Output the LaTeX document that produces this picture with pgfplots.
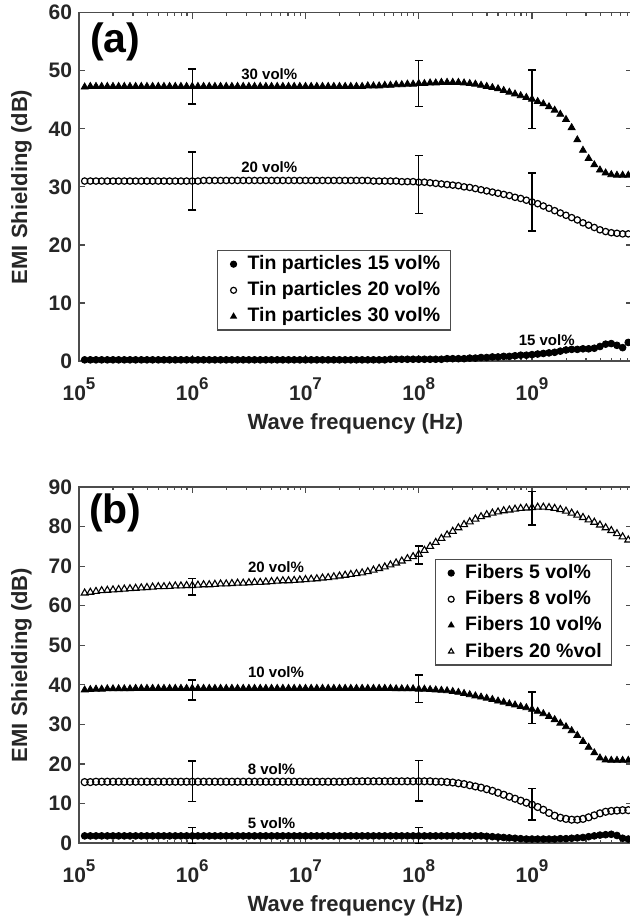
\documentclass[border=0pt]{standalone}
\usepackage{fontspec}
\setmainfont{Liberation Sans}
\usepackage{pgfplots}
\usepackage{pgfplotstable}
\pgfplotsset{compat=1.18}

\definecolor{axgray}{gray}{0.3}
\definecolor{txtgray}{gray}{0.15}
\newcommand{\ex}[1]{10\raisebox{0.5em}{\fontsize{8.5}{9}\selectfont #1}}

% lx = log10(frequency / Hz)
\pgfplotstableread{
lx t15 t20 t30
5.05 0.2 31.0 47.2
5.10 0.2 31.0 47.3
5.15 0.2 31.0 47.3
5.20 0.2 31.0 47.3
5.25 0.2 31.0 47.3
5.30 0.2 31.0 47.3
5.35 0.2 31.0 47.3
5.40 0.2 31.0 47.3
5.45 0.2 31.0 47.3
5.50 0.2 31.0 47.3
5.55 0.2 31.0 47.3
5.60 0.2 31.0 47.3
5.65 0.2 31.0 47.3
5.70 0.2 31.0 47.3
5.75 0.2 31.0 47.3
5.80 0.2 31.0 47.3
5.85 0.2 31.0 47.3
5.90 0.2 31.0 47.3
5.95 0.2 31.0 47.3
6.00 0.2 31.0 47.3
6.05 0.2 31.0 47.3
6.10 0.2 31.1 47.3
6.15 0.2 31.1 47.3
6.20 0.2 31.1 47.3
6.25 0.2 31.1 47.3
6.30 0.2 31.1 47.3
6.35 0.2 31.1 47.3
6.40 0.2 31.1 47.3
6.45 0.2 31.1 47.3
6.50 0.2 31.1 47.3
6.55 0.2 31.1 47.3
6.60 0.2 31.1 47.3
6.65 0.2 31.1 47.3
6.70 0.2 31.1 47.3
6.75 0.2 31.1 47.3
6.80 0.2 31.1 47.3
6.85 0.2 31.1 47.3
6.90 0.2 31.1 47.3
6.95 0.2 31.1 47.3
7.00 0.2 31.1 47.3
7.05 0.2 31.1 47.3
7.10 0.2 31.1 47.3
7.15 0.2 31.1 47.3
7.20 0.2 31.1 47.3
7.25 0.2 31.1 47.3
7.30 0.2 31.1 47.3
7.35 0.2 31.1 47.3
7.40 0.2 31.1 47.3
7.45 0.2 31.1 47.3
7.50 0.2 31.1 47.3
7.55 0.2 31.1 47.4
7.60 0.2 31.0 47.4
7.65 0.2 31.0 47.4
7.70 0.2 31.0 47.5
7.75 0.3 31.0 47.5
7.80 0.3 31.0 47.6
7.85 0.3 30.9 47.6
7.90 0.3 30.9 47.7
7.95 0.3 30.9 47.7
8.00 0.3 30.8 47.8
8.05 0.3 30.8 47.8
8.10 0.3 30.7 47.9
8.15 0.3 30.6 47.9
8.20 0.3 30.5 48.0
8.25 0.4 30.4 48.0
8.30 0.4 30.3 48.0
8.35 0.4 30.2 48.0
8.40 0.4 30.0 47.9
8.45 0.5 29.9 47.8
8.50 0.5 29.7 47.7
8.55 0.6 29.5 47.5
8.60 0.6 29.3 47.3
8.65 0.7 29.1 47.1
8.70 0.7 28.9 46.9
8.75 0.8 28.7 46.6
8.80 0.8 28.5 46.3
8.85 0.9 28.2 46.0
8.90 1.0 28.0 45.7
8.95 1.0 27.7 45.4
9.00 1.1 27.4 45.1
9.05 1.2 27.1 44.7
9.10 1.3 26.7 44.3
9.15 1.4 26.3 43.8
9.20 1.5 25.9 43.2
9.25 1.7 25.5 42.5
9.30 1.9 25.1 41.6
9.35 2.0 24.7 40.2
9.40 2.0 24.3 38.1
9.45 2.1 23.8 36.3
9.50 2.1 23.4 34.9
9.55 2.2 23.0 33.8
9.60 2.5 22.6 32.9
9.65 2.9 22.3 32.4
9.70 3.0 22.1 32.1
9.75 2.7 22.0 32.0
9.80 2.3 21.9 32.0
9.85 3.2 21.9 32.0
}\tindata

\pgfplotstableread{
lx f5 f8 f10 f20
5.05 1.8 15.4 38.7 63.2
5.10 1.8 15.4 38.8 63.4
5.15 1.8 15.5 38.9 63.6
5.20 1.8 15.5 38.9 63.8
5.25 1.8 15.5 39.0 63.9
5.30 1.8 15.5 39.0 64.0
5.35 1.8 15.5 39.0 64.1
5.40 1.8 15.5 39.0 64.2
5.45 1.8 15.5 39.0 64.3
5.50 1.8 15.5 39.1 64.4
5.55 1.8 15.5 39.1 64.5
5.60 1.8 15.5 39.1 64.6
5.65 1.8 15.5 39.1 64.7
5.70 1.8 15.5 39.1 64.8
5.75 1.8 15.5 39.1 64.8
5.80 1.8 15.5 39.1 64.9
5.85 1.8 15.5 39.1 65.0
5.90 1.8 15.5 39.1 65.0
5.95 1.8 15.5 39.1 65.1
6.00 1.8 15.5 39.1 65.1
6.05 1.8 15.5 39.1 65.2
6.10 1.8 15.5 39.1 65.3
6.15 1.8 15.5 39.1 65.3
6.20 1.8 15.5 39.1 65.4
6.25 1.8 15.5 39.1 65.5
6.30 1.8 15.5 39.1 65.5
6.35 1.8 15.5 39.1 65.6
6.40 1.8 15.5 39.1 65.7
6.45 1.8 15.5 39.1 65.7
6.50 1.8 15.5 39.1 65.8
6.55 1.8 15.5 39.1 65.9
6.60 1.8 15.5 39.1 65.9
6.65 1.8 15.5 39.1 66.0
6.70 1.8 15.5 39.1 66.1
6.75 1.8 15.5 39.1 66.2
6.80 1.8 15.5 39.1 66.3
6.85 1.8 15.5 39.1 66.3
6.90 1.8 15.5 39.1 66.4
6.95 1.8 15.5 39.1 66.5
7.00 1.8 15.5 39.1 66.6
7.05 1.8 15.5 39.1 66.7
7.10 1.8 15.5 39.1 66.8
7.15 1.8 15.5 39.1 67.0
7.20 1.8 15.5 39.1 67.1
7.25 1.8 15.5 39.1 67.3
7.30 1.8 15.5 39.1 67.5
7.35 1.8 15.5 39.1 67.7
7.40 1.8 15.6 39.1 67.9
7.45 1.8 15.6 39.1 68.1
7.50 1.8 15.6 39.1 68.3
7.55 1.8 15.6 39.1 68.6
7.60 1.8 15.6 39.1 69.0
7.65 1.8 15.6 39.1 69.4
7.70 1.8 15.6 39.1 69.8
7.75 1.8 15.6 39.1 70.3
7.80 1.8 15.6 39.0 70.8
7.85 1.8 15.6 39.0 71.3
7.90 1.8 15.6 39.0 71.9
7.95 1.8 15.6 39.0 72.4
8.00 1.8 15.6 38.9 73.0
8.05 1.8 15.6 38.9 74.0
8.10 1.8 15.6 38.8 75.0
8.15 1.8 15.5 38.7 76.0
8.20 1.8 15.5 38.6 77.0
8.25 1.8 15.4 38.5 77.9
8.30 1.8 15.3 38.3 78.8
8.35 1.8 15.1 38.1 79.7
8.40 1.8 14.9 37.8 80.5
8.45 1.8 14.6 37.5 81.2
8.50 1.8 14.3 37.2 81.9
8.55 1.8 14.0 36.9 82.5
8.60 1.7 13.6 36.6 83.0
8.65 1.6 13.2 36.3 83.4
8.70 1.5 12.7 35.9 83.7
8.75 1.4 12.2 35.6 84.0
8.80 1.3 11.7 35.2 84.2
8.85 1.2 11.2 34.9 84.4
8.90 1.1 10.7 34.5 84.6
8.95 1.0 10.2 34.2 84.7
9.00 1.0 9.7 33.8 84.8
9.05 1.0 9.1 33.3 84.9
9.10 1.0 8.4 32.7 84.9
9.15 1.0 7.6 32.0 84.8
9.20 1.0 6.9 31.2 84.6
9.25 1.1 6.4 30.3 84.3
9.30 1.1 6.1 29.4 83.9
9.35 1.2 5.9 28.4 83.4
9.40 1.3 5.9 27.2 82.9
9.45 1.4 6.1 25.7 82.3
9.50 1.6 6.5 24.2 81.7
9.55 1.8 7.0 22.8 81.1
9.60 2.0 7.5 21.5 80.4
9.65 2.1 7.9 21.0 79.7
9.70 2.2 8.1 20.9 79.0
9.75 1.9 8.2 20.9 78.2
9.80 1.2 8.3 20.9 77.4
9.85 1.0 8.3 20.9 76.6
}\fiberdata

\tikzset{vl/.style={font=\fontsize{7.5}{9}\selectfont\bfseries, text=black}}

\pgfplotsset{
  emi/.style={
    scale only axis, width=276.5pt, anchor=south west,
    xmin=5, xmax=9.883,
    xtick={5,6,7,8,9},
    xticklabels={\ex{5},\ex{6},\ex{7},\ex{8},\ex{9}},
    minor xtick={5.301,5.477,5.602,5.699,5.778,5.845,5.903,5.954,
                 6.301,6.477,6.602,6.699,6.778,6.845,6.903,6.954,
                 7.301,7.477,7.602,7.699,7.778,7.845,7.903,7.954,
                 8.301,8.477,8.602,8.699,8.778,8.845,8.903,8.954,
                 9.301,9.477,9.602,9.699,9.778,9.845},
    tick align=inside, tick pos=both,
    major tick length=3pt, minor tick length=1.6pt,
    every tick/.style={axgray, line width=0.6pt},
    axis line style={axgray, line width=0.6pt},
    tick label style={font=\fontsize{10.5}{12}\selectfont\bfseries, text=txtgray},
    xticklabel style={yshift=-5pt},
    /pgf/number format/assume math mode=true,
    xlabel={Wave frequency (Hz)}, ylabel={EMI Shielding (dB)},
    every axis x label/.style={at={(axis description cs:0.5,0)}, anchor=center,
      yshift=-31.5pt, font=\fontsize{11}{13}\selectfont\bfseries, text=txtgray},
    every axis y label/.style={at={(axis description cs:0,0.5)}, anchor=center,
      rotate=90, yshift=28.75pt, font=\fontsize{11}{13}\selectfont\bfseries, text=txtgray},
    clip=false,
    legend cell align=left,
    legend style={anchor=north west, draw=axgray, line width=0.6pt,
      inner xsep=3pt, inner ysep=0.5pt, row sep=0.5pt,
      font=\fontsize{9.75}{11}\selectfont\bfseries,
      nodes={inner sep=2pt, text depth=0.15em}},
  },
  mk/.style={only marks, black,
    legend image code/.code={\path[draw=none] (-5pt,0pt) -- (5pt,0pt); \draw[##1, mark size=1.5pt] plot coordinates {(0pt,0pt)};}},
  eb/.style={forget plot, black, only marks, mark=*, mark size=0pt,
    error bars/.cd, y dir=both, y explicit,
    error bar style={line width=0.7pt, black},
    error mark options={rotate=90, black, line width=0.7pt, mark size=2pt}},
}

\begin{document}
\begin{tikzpicture}

% (a) tin particles
\begin{axis}[emi, at={(39.5pt,-180.5pt)}, height=174.15pt,
  ymin=0, ymax=60, ytick={0,10,...,60},
  legend style={at={(0.2495,0.3187)}}]
\addplot[mk, mark=*, mark size=1.7pt] table[x=lx, y=t15] {\tindata};
\addlegendentry{Tin particles 15 vol\%}
\addplot[mk, mark=o, mark size=1.6pt, line width=0.6pt] table[x=lx, y=t20] {\tindata};
\addlegendentry{Tin particles 20 vol\%}
\addplot[mk, mark=triangle*, mark size=2.0pt] table[x=lx, y=t30] {\tindata};
\addlegendentry{Tin particles 30 vol\%}
\addplot[eb] coordinates {(6,47.3) +- (0,3.0) (8,47.8) +- (0,4.0) (9,45.1) +- (0,5.0)};
\addplot[eb] coordinates {(6,31.0) +- (0,5.0) (8,30.4) +- (0,5.0) (9,27.4) +- (0,5.0)};
\node[vl] at (axis cs:6.68,49.5) {30 vol\%};
\node[vl] at (axis cs:6.68,33.4) {20 vol\%};
\node[vl] at (axis cs:9.13,3.6) {15 vol\%};
\node[font=\fontsize{20.5}{23}\selectfont\bfseries] at (axis cs:5.32,55.0) {(a)};
\end{axis}

% (b) fibers
\begin{axis}[emi, at={(39.5pt,-421.5pt)}, height=178pt,
  ymin=0, ymax=90, ytick={0,10,...,90},
  legend style={at={(0.643,0.798)}}]
\addplot[mk, mark=*, mark size=1.7pt] table[x=lx, y=f5] {\fiberdata};
\addlegendentry{Fibers 5 vol\%}
\addplot[mk, mark=o, mark size=1.75pt, line width=0.6pt] table[x=lx, y=f8] {\fiberdata};
\addlegendentry{Fibers 8 vol\%}
\addplot[mk, mark=triangle*, mark size=2.0pt] table[x=lx, y=f10] {\fiberdata};
\addlegendentry{Fibers 10 vol\%}
\addplot[mk, mark=triangle, mark size=2.0pt, line width=0.55pt] table[x=lx, y=f20] {\fiberdata};
\addlegendentry{Fibers 20 \%vol}
\addplot[eb] coordinates {(6,1.9) +- (0,2.0) (8,1.9) +- (0,2.0)};
\addplot[eb] coordinates {(6,15.6) +- (0,5.1) (8,15.7) +- (0,5.1) (9,9.8) +- (0,4.0)};
\addplot[eb] coordinates {(6,38.7) +- (0,2.5) (8,39.0) +- (0,3.5) (9,34.2) +- (0,4.0)};
\addplot[eb] coordinates {(6,64.8) +- (0,2.1) (8,72.8) +- (0,2.3) (9,84.6) +- (0,4.2)};
\node[vl] at (axis cs:6.74,69.8) {20 vol\%};
\node[vl] at (axis cs:6.74,43.3) {10 vol\%};
\node[vl] at (axis cs:6.70,18.7) {8 vol\%};
\node[vl] at (axis cs:6.70,5.0) {5 vol\%};
\node[font=\fontsize{20.5}{23}\selectfont\bfseries] at (axis cs:5.32,83.5) {(b)};
\end{axis}

\pgfresetboundingbox
\useasboundingbox (0pt,0pt) rectangle (314.5pt,-459.5pt);
\end{tikzpicture}
\end{document}
